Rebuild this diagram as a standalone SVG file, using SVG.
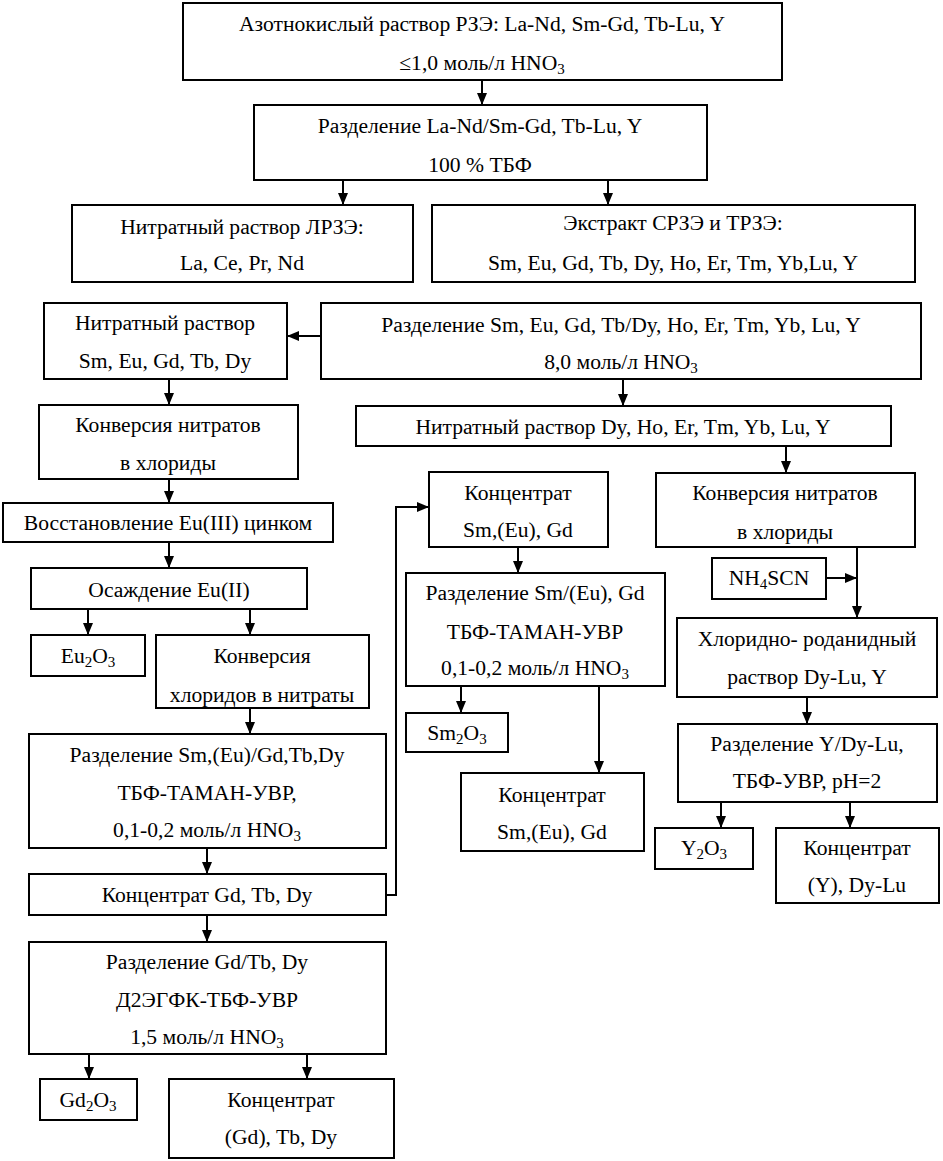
<svg xmlns="http://www.w3.org/2000/svg" width="943" height="1161" viewBox="0 0 943 1161">
<style>
rect{fill:#fff;stroke:#000;stroke-width:2}
text{font-family:"Liberation Serif","Times New Roman",serif;font-size:21.6px;fill:#000;text-anchor:middle}
.c path,.c line,.c polyline{stroke:#000;stroke-width:2;fill:none}
</style>
<defs>
<marker id="ah" viewBox="0 0 12 10" refX="12" refY="5" markerWidth="12" markerHeight="10" markerUnits="userSpaceOnUse" orient="auto">
<path d="M0,0 L12,5 L0,10 z" fill="#000"/>
</marker>
</defs>
<rect width="943" height="1161" style="stroke:none"/>
<g class="c" id="connectors">
<line x1="482" y1="80" x2="482" y2="105" marker-end="url(#ah)"/>
<line x1="343" y1="180" x2="343" y2="205" marker-end="url(#ah)"/>
<line x1="608" y1="180" x2="608" y2="205" marker-end="url(#ah)"/>
<line x1="321" y1="336" x2="287" y2="336" marker-end="url(#ah)"/>
<line x1="169" y1="379" x2="169" y2="405" marker-end="url(#ah)"/>
<line x1="623" y1="379" x2="623" y2="406" marker-end="url(#ah)"/>
<line x1="786" y1="446" x2="786" y2="473" marker-end="url(#ah)"/>
<line x1="169" y1="479" x2="169" y2="503" marker-end="url(#ah)"/>
<line x1="169" y1="542" x2="169" y2="568" marker-end="url(#ah)"/>
<line x1="88" y1="609" x2="88" y2="635" marker-end="url(#ah)"/>
<line x1="250" y1="609" x2="250" y2="635" marker-end="url(#ah)"/>
<line x1="250" y1="708" x2="250" y2="734" marker-end="url(#ah)"/>
<line x1="207" y1="848" x2="207" y2="874" marker-end="url(#ah)"/>
<polyline points="386,895 396,895 396,507 429,507" marker-end="url(#ah)"/>
<line x1="207" y1="915" x2="207" y2="942" marker-end="url(#ah)"/>
<line x1="89" y1="1054" x2="89" y2="1079" marker-end="url(#ah)"/>
<line x1="307" y1="1054" x2="307" y2="1079" marker-end="url(#ah)"/>
<line x1="518" y1="547" x2="518" y2="573" marker-end="url(#ah)"/>
<line x1="461" y1="686" x2="461" y2="713" marker-end="url(#ah)"/>
<line x1="599" y1="686" x2="599" y2="773" marker-end="url(#ah)"/>
<line x1="857" y1="547" x2="857" y2="618" marker-end="url(#ah)"/>
<line x1="826" y1="578" x2="857" y2="578" marker-end="url(#ah)"/>
<line x1="807" y1="697" x2="807" y2="724" marker-end="url(#ah)"/>
<line x1="721" y1="802" x2="721" y2="828" marker-end="url(#ah)"/>
<line x1="850" y1="802" x2="850" y2="828" marker-end="url(#ah)"/>
</g>
<g id="n1"><rect x="183" y="3" width="599" height="77"/><text x="482" y="31">Азотнокислый раствор РЗЭ: La-Nd, Sm-Gd, Tb-Lu, Y</text><text x="482" y="70">≤1,0 моль/л HNO<tspan font-size="15" dy="4">3</tspan></text></g>
<g id="n2"><rect x="254" y="105" width="453" height="75"/><text x="480" y="133">Разделение La-Nd/Sm-Gd, Tb-Lu, Y</text><text x="480" y="172">100 % ТБФ</text></g>
<g id="n3"><rect x="72" y="205" width="341" height="77"/><text x="242" y="234">Нитратный раствор ЛРЗЭ:</text><text x="242" y="270">La, Ce, Pr, Nd</text></g>
<g id="n4"><rect x="432" y="205" width="483" height="77"/><text x="673" y="230">Экстракт СРЗЭ и ТРЗЭ:</text><text x="673" y="270">Sm, Eu, Gd, Tb, Dy, Ho, Er, Tm, Yb,Lu, Y</text></g>
<g id="n5"><rect x="44" y="303" width="243" height="76"/><text x="165" y="330">Нитратный раствор</text><text x="165" y="368">Sm, Eu, Gd, Tb, Dy</text></g>
<g id="n6"><rect x="321" y="303" width="600" height="76"/><text x="621" y="332">Разделение Sm, Eu, Gd, Tb/Dy, Ho, Er, Tm, Yb, Lu, Y</text><text x="621" y="369">8,0 моль/л HNO<tspan font-size="15" dy="4">3</tspan></text></g>
<g id="n7"><rect x="39" y="405" width="259" height="74"/><text x="168" y="432">Конверсия нитратов</text><text x="168" y="470">в хлориды</text></g>
<g id="n8"><rect x="356" y="406" width="535" height="40"/><text x="623" y="434">Нитратный раствор Dy, Ho, Er, Tm, Yb, Lu, Y</text></g>
<g id="n9"><rect x="656" y="473" width="259" height="74"/><text x="785" y="500">Конверсия нитратов</text><text x="785" y="539">в хлориды</text></g>
<g id="n10"><rect x="3" y="503" width="330" height="39"/><text x="168" y="530">Восстановление Eu(III) цинком</text></g>
<g id="n11"><rect x="31" y="568" width="276" height="41"/><text x="169" y="597">Осаждение Eu(II)</text></g>
<g id="n12"><rect x="31" y="635" width="114" height="41"/><text x="88" y="663">Eu<tspan font-size="15" dy="4">2</tspan><tspan dy="-4">O</tspan><tspan font-size="15" dy="4">3</tspan></text></g>
<g id="n13"><rect x="156" y="635" width="213" height="73"/><text x="262" y="663">Конверсия</text><text x="262" y="702">хлоридов в нитраты</text></g>
<g id="n14"><rect x="29" y="734" width="357" height="114"/><text x="207" y="762">Разделение Sm,(Eu)/Gd,Tb,Dy</text><text x="207" y="800">ТБФ-ТАМАН-УВР,</text><text x="207" y="837">0,1-0,2 моль/л HNO<tspan font-size="15" dy="4">3</tspan></text></g>
<g id="n15"><rect x="29" y="874" width="357" height="41"/><text x="207" y="902">Концентрат Gd, Tb, Dy</text></g>
<g id="n16"><rect x="429" y="472" width="179" height="75"/><text x="518" y="500">Концентрат</text><text x="518" y="537">Sm,(Eu), Gd</text></g>
<g id="n17"><rect x="406" y="573" width="259" height="113"/><text x="535" y="600">Разделение Sm/(Eu), Gd</text><text x="535" y="639">ТБФ-ТАМАН-УВР</text><text x="535" y="675">0,1-0,2 моль/л HNO<tspan font-size="15" dy="4">3</tspan></text></g>
<g id="n18"><rect x="406" y="713" width="102" height="39"/><text x="457" y="740">Sm<tspan font-size="15" dy="4">2</tspan><tspan dy="-4">O</tspan><tspan font-size="15" dy="4">3</tspan></text></g>
<g id="n19"><rect x="461" y="773" width="183" height="78"/><text x="552" y="802">Концентрат</text><text x="552" y="839">Sm,(Eu), Gd</text></g>
<g id="n20"><rect x="712" y="558" width="114" height="41"/><text x="769" y="585">NH<tspan font-size="15" dy="4">4</tspan><tspan dy="-4">SCN</tspan></text></g>
<g id="n21"><rect x="677" y="618" width="260" height="79"/><text x="807" y="646">Хлоридно- роданидный</text><text x="807" y="684">раствор Dy-Lu, Y</text></g>
<g id="n22"><rect x="678" y="724" width="259" height="78"/><text x="807" y="751">Разделение Y/Dy-Lu,</text><text x="807" y="788">ТБФ-УВР, pH=2</text></g>
<g id="n23"><rect x="655" y="828" width="98" height="41"/><text x="704" y="855">Y<tspan font-size="15" dy="4">2</tspan><tspan dy="-4">O</tspan><tspan font-size="15" dy="4">3</tspan></text></g>
<g id="n24"><rect x="776" y="828" width="163" height="75"/><text x="857" y="855">Концентрат</text><text x="857" y="892">(Y), Dy-Lu</text></g>
<g id="n25"><rect x="29" y="942" width="357" height="112"/><text x="207" y="969">Разделение Gd/Tb, Dy</text><text x="207" y="1007">Д2ЭГФК-ТБФ-УВР</text><text x="207" y="1044">1,5 моль/л HNO<tspan font-size="15" dy="4">3</tspan></text></g>
<g id="n26"><rect x="40" y="1079" width="97" height="41"/><text x="88" y="1107">Gd<tspan font-size="15" dy="4">2</tspan><tspan dy="-4">O</tspan><tspan font-size="15" dy="4">3</tspan></text></g>
<g id="n27"><rect x="169" y="1079" width="225" height="79"/><text x="281" y="1107">Концентрат</text><text x="281" y="1144">(Gd), Tb, Dy</text></g>
</svg>
